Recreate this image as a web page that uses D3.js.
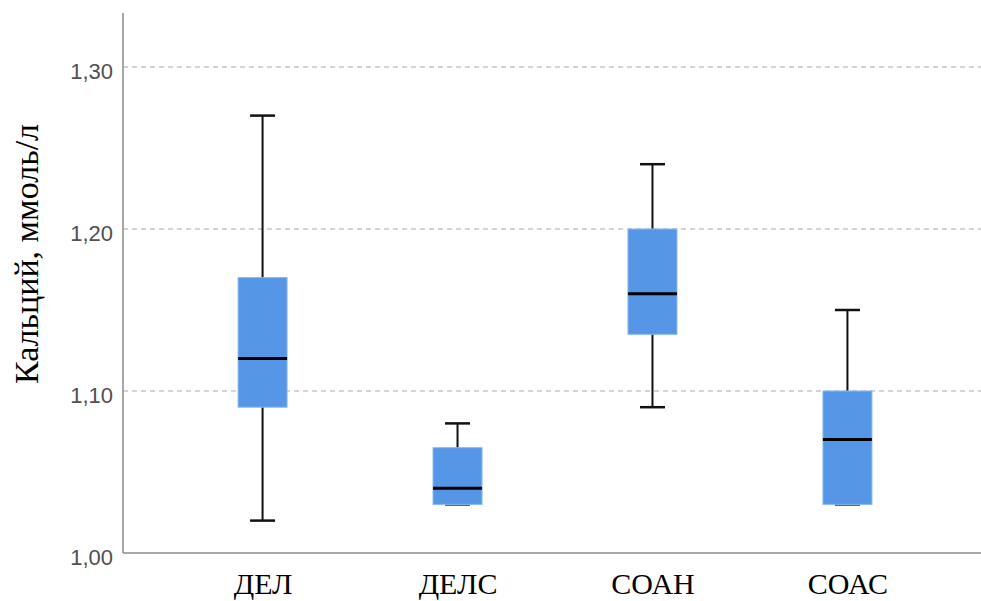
<!DOCTYPE html>
<html>
<head>
<meta charset="utf-8">
<script src="https://cdn.jsdelivr.net/npm/d3@7"></script>
<style>
  body { margin: 0; background: #fff; }
</style>
</head>
<body>
<script>
// data
var groups = ['ДЕЛ', 'ДЕЛС', 'СОАН', 'СОАС'];
var whiskerLow = [1.02, 1.03, 1.09, 1.03];
var q1 = [1.09, 1.03, 1.135, 1.03];
var median = [1.12, 1.04, 1.16, 1.07];
var q3 = [1.17, 1.065, 1.20, 1.10];
var whiskerHigh = [1.27, 1.08, 1.24, 1.15];
var yTicks = [1.00, 1.10, 1.20, 1.30];
var yTitle = 'Кальций, ммоль/л';

var w = 981, h = 601;
var mLeft = 123, mRight = 981, mTop = 13, mBottom = 553;

var svg = d3.select('body').append('svg')
  .attr('width', w)
  .attr('height', h);

var x = d3.scalePoint()
  .domain(groups)
  .range([130, 980])
  .padding(0.68);

var y = d3.scaleLinear()
  .domain([1.0, 1.0 + (mBottom - mTop) / 1620])
  .range([mBottom, mTop]);

var boxW = 49, capW = 25;

// gridlines
svg.append('g').selectAll('line')
  .data(yTicks.filter(function(d){ return d > 1.0; }))
  .join('line')
  .attr('x1', mLeft).attr('x2', mRight)
  .attr('y1', function(d){ return y(d); })
  .attr('y2', function(d){ return y(d); })
  .attr('stroke', '#c6c6c6')
  .attr('stroke-width', 1.5)
  .attr('stroke-dasharray', '5,4');

// y axis
var yAxis = svg.append('g')
  .attr('transform', 'translate(' + mLeft + ',0)')
  .call(d3.axisLeft(y).tickValues(yTicks).tickSize(0).tickPadding(10)
    .tickFormat(function(d){ return d3.format('.2f')(d).replace('.', ','); }));
yAxis.select('.domain').remove();
yAxis.selectAll('text')
  .attr('font-family', '"Liberation Sans", Arial, sans-serif')
  .attr('font-size', 22)
  .attr('fill', '#505050')
  .attr('dy', '0.5em');

svg.append('line')
  .attr('x1', mLeft).attr('x2', mLeft)
  .attr('y1', mTop).attr('y2', mBottom)
  .attr('stroke', '#8a8a8a').attr('stroke-width', 1.5);
svg.append('line')
  .attr('x1', mLeft).attr('x2', mRight)
  .attr('y1', mBottom).attr('y2', mBottom)
  .attr('stroke', '#8a8a8a').attr('stroke-width', 1.5);

// x labels
var xAxis = svg.append('g')
  .attr('transform', 'translate(0,' + mBottom + ')')
  .call(d3.axisBottom(x).tickSize(0).tickPadding(0));
xAxis.select('.domain').remove();
xAxis.selectAll('text')
  .attr('font-family', '"Liberation Serif", "Times New Roman", serif')
  .attr('font-size', 30)
  .attr('fill', '#000')
  .attr('dy', 0)
  .attr('y', 41);

// y title
svg.append('text')
  .attr('transform', 'translate(38,254) rotate(-90)')
  .attr('text-anchor', 'middle')
  .attr('font-family', '"Liberation Serif", "Times New Roman", serif')
  .attr('font-size', 34)
  .attr('fill', '#000')
  .text(yTitle);

// boxes
var g = svg.selectAll('.box')
  .data(groups)
  .join('g')
  .attr('class', 'box')
  .attr('transform', function(d){ return 'translate(' + x(d) + ',0)'; });

g.append('line')
  .attr('x1', 0).attr('x2', 0)
  .attr('y1', function(d, i){ return y(whiskerHigh[i]); })
  .attr('y2', function(d, i){ return y(whiskerLow[i]); })
  .attr('stroke', '#111').attr('stroke-width', 2);

g.append('line')
  .attr('x1', -capW / 2).attr('x2', capW / 2)
  .attr('y1', function(d, i){ return y(whiskerHigh[i]); })
  .attr('y2', function(d, i){ return y(whiskerHigh[i]); })
  .attr('stroke', '#111').attr('stroke-width', 2.5);

g.append('line')
  .attr('x1', -capW / 2).attr('x2', capW / 2)
  .attr('y1', function(d, i){ return y(whiskerLow[i]); })
  .attr('y2', function(d, i){ return y(whiskerLow[i]); })
  .attr('stroke', '#111').attr('stroke-width', 2.5);

g.append('rect')
  .attr('x', -boxW / 2)
  .attr('width', boxW)
  .attr('y', function(d, i){ return y(q3[i]); })
  .attr('height', function(d, i){ return y(q1[i]) - y(q3[i]); })
  .attr('fill', '#5596e6')
  .attr('stroke', '#8ab8f0')
  .attr('stroke-width', 1);

g.append('line')
  .attr('x1', -boxW / 2).attr('x2', boxW / 2)
  .attr('y1', function(d, i){ return y(median[i]); })
  .attr('y2', function(d, i){ return y(median[i]); })
  .attr('stroke', '#000').attr('stroke-width', 3);
</script>
</body>
</html>
